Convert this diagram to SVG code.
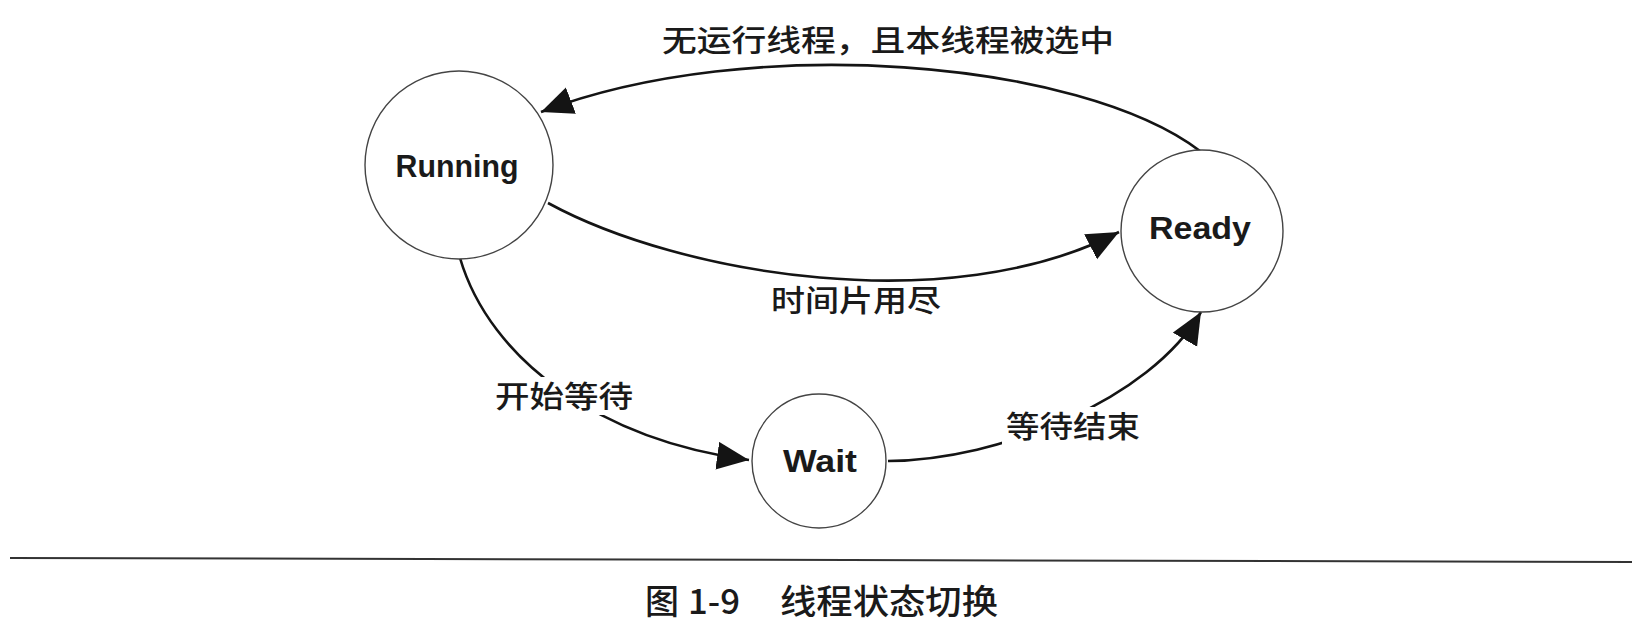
<svg xmlns="http://www.w3.org/2000/svg" width="1650" height="630" viewBox="0 0 1650 630">
  <style>
    .state { fill: #ffffff; stroke: #444444; stroke-width: 1.4; }
    .state-label { font-family: "Liberation Sans", Arial, sans-serif; font-weight: bold; font-size: 31px; fill: #1a1a1a; text-anchor: middle; }
    .edge { fill: none; stroke: #141414; stroke-width: 2.6; }
    .edge-label { font-family: "Noto Sans CJK SC", "Noto Sans", sans-serif; font-size: 30px; font-weight: 500; fill: #1a1a1a; }
    .label-bg { fill: #ffffff; stroke: none; }
    .caption { font-family: "Noto Sans CJK SC", "Noto Sans", sans-serif; font-size: 34px; font-weight: 500; fill: #1a1a1a; }
    .rule { stroke: #333333; stroke-width: 2; fill: none; }
  </style>
  <defs>
    <marker id="arrow" markerUnits="userSpaceOnUse" markerWidth="34" markerHeight="30" refX="32" refY="14" orient="auto">
      <path d="M0,0 L32,14 L0,28 Z" fill="#141414"/>
    </marker>
  </defs>
  <rect width="1650" height="630" fill="#ffffff"/>

  <g id="connectors">
    <g id="edge-ready-running">
      <path class="edge" d="M1200,151 C1080,60 750,32 541,112" marker-end="url(#arrow)"/>
      <text class="edge-label" x="662" y="51" textLength="452" lengthAdjust="spacingAndGlyphs">无运行线程，且本线程被选中</text>
    </g>
    <g id="edge-running-ready">
      <path class="edge" d="M548,203 C680,275 950,320 1119,232" marker-end="url(#arrow)"/>
      <text class="edge-label" x="771" y="311" textLength="170" lengthAdjust="spacingAndGlyphs">时间片用尽</text>
    </g>
    <g id="edge-running-wait">
      <path class="edge" d="M460,258 C490,360 600,440 749,460" marker-end="url(#arrow)"/>
      <rect class="label-bg" x="489" y="377" width="150" height="38"/>
      <text class="edge-label" x="495" y="407" textLength="138" lengthAdjust="spacingAndGlyphs">开始等待</text>
    </g>
    <g id="edge-wait-ready">
      <path class="edge" d="M888,461 C1000,460 1150,400 1201,312" marker-end="url(#arrow)"/>
      <rect class="label-bg" x="1002" y="407" width="142" height="38"/>
      <text class="edge-label" x="1006" y="437" textLength="134" lengthAdjust="spacingAndGlyphs">等待结束</text>
    </g>
  </g>

  <g id="node-running">
    <circle class="state" cx="459" cy="165" r="94"/>
    <text class="state-label" x="457" y="177" textLength="123" lengthAdjust="spacingAndGlyphs">Running</text>
  </g>
  <g id="node-ready">
    <circle class="state" cx="1202" cy="231" r="81"/>
    <text class="state-label" x="1200" y="239" textLength="102" lengthAdjust="spacingAndGlyphs">Ready</text>
  </g>
  <g id="node-wait">
    <circle class="state" cx="819" cy="461" r="67"/>
    <text class="state-label" x="820" y="472" textLength="74" lengthAdjust="spacingAndGlyphs">Wait</text>
  </g>

  <g id="caption">
    <line class="rule" x1="10" y1="558" x2="1632" y2="562"/>
    <text class="caption" y="614"><tspan x="645">图</tspan><tspan x="688" textLength="52" lengthAdjust="spacingAndGlyphs">1-9</tspan><tspan x="780" textLength="218" lengthAdjust="spacingAndGlyphs">线程状态切换</tspan></text>
  </g>
</svg>
